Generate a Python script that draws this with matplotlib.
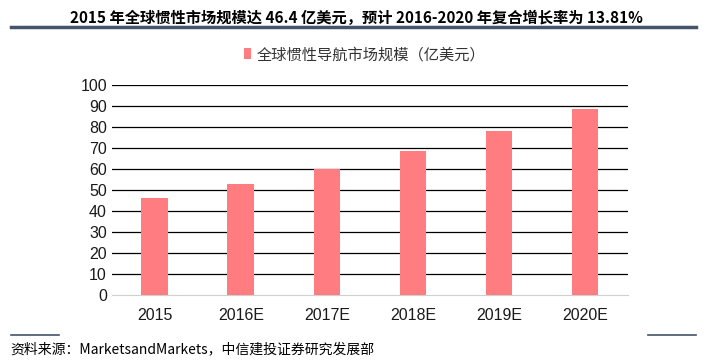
import matplotlib.pyplot as plt
from matplotlib.lines import Line2D

plt.rcParams['font.family'] = ['Noto Sans CJK SC', 'DejaVu Sans']

# data
years = ['2015', '2016E', '2017E', '2018E', '2019E', '2020E']
market = [46.4, 52.8, 60.1, 68.4, 77.9, 88.6]
y_ticks = list(range(0, 101, 10))

title = '2015 年全球惯性市场规模达 46.4 亿美元，预计 2016-2020 年复合增长率为 13.81%'
legend_label = '全球惯性导航市场规模（亿美元）'
source = '资料来源：MarketsandMarkets，中信建投证券研究发展部'

fig = plt.figure(figsize=(7.12, 3.62), dpi=100)
ax = fig.add_axes([0.157, 0.185, 0.725, 0.58])

ax.bar(years, market, width=0.31, color='#FF7C80', zorder=3, label=legend_label)
ax.set_ylim(0, 100)
ax.set_xlim(-0.5, len(years) - 0.5)
ax.set_yticks(y_ticks)
for v in y_ticks[1:]:
    ax.axhline(v, color='black', lw=0.9, zorder=1)
for s in ['top', 'right', 'left']:
    ax.spines[s].set_visible(False)
ax.spines['bottom'].set_color('#D0D0D0')
ax.tick_params(length=0, labelsize=11.5, colors='#1a1a1a')
ax.tick_params(axis='x', pad=9)
for lab in ax.get_xticklabels() + ax.get_yticklabels():
    lab.set_fontfamily(['Liberation Sans', 'DejaVu Sans'])

leg = ax.legend(loc='center', bbox_to_anchor=(0.49, 1.145), frameon=False,
                handlelength=0.5, handleheight=0.7, handletextpad=0.35,
                prop={'size': 11})
for t in leg.get_texts():
    t.set_color('#333333')

# title and frame lines
fig.text(0.5, 0.95, title, ha='center', va='center', fontsize=11, fontweight='bold')
fig.add_artist(Line2D([0.015, 0.978], [0.925, 0.925], color='#44546A', lw=2.5))
fig.add_artist(Line2D([0.015, 0.083], [0.075, 0.075], color='#44546A', lw=1.2))
fig.add_artist(Line2D([0.91, 0.978], [0.075, 0.075], color='#44546A', lw=1.2))
fig.text(0.015, 0.035, source, ha='left', va='center', fontsize=10, style='italic')

fig.savefig('out.png', dpi=100)
